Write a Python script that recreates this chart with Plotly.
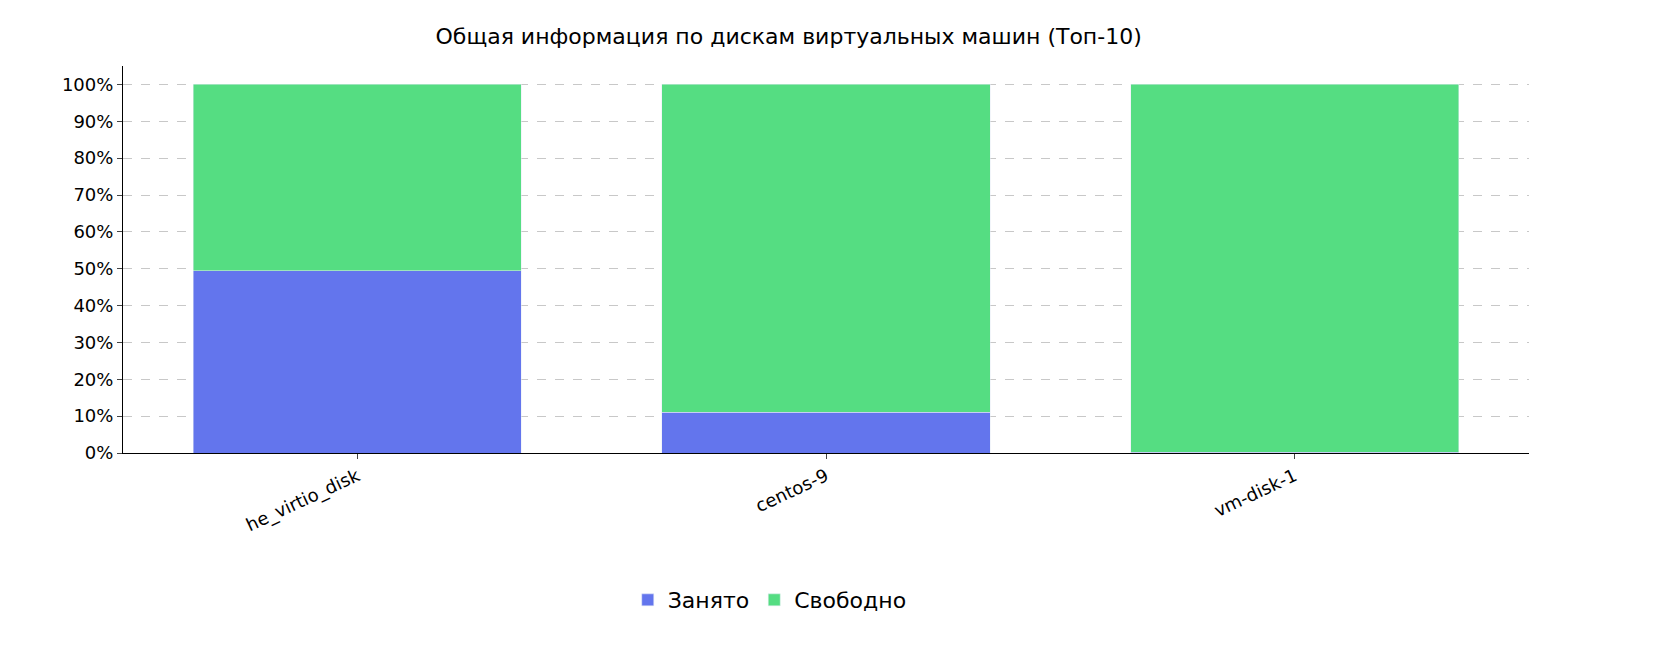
import plotly.graph_objects as go

# ====================================================
# Data
# ====================================================
disks = ["he_virtio_disk", "centos-9", "vm-disk-1"]
used_pct = [49.5, 11.0, 0.2]
free_pct = [50.5, 89.0, 99.8]
tick_vals = list(range(0, 101, 10))
tick_text = [f"{v}%" for v in tick_vals]

FONT = "DejaVu Sans"

fig = go.Figure()
fig.add_trace(go.Bar(x=disks, y=used_pct, name="Занято", marker_color="#6375ed", width=0.7))
fig.add_trace(go.Bar(x=disks, y=free_pct, name="Свободно", marker_color="#55dd82", width=0.7))

fig.update_layout(
    barmode="stack",
    width=1661, height=661,
    plot_bgcolor="white", paper_bgcolor="white",
    font=dict(family=FONT, size=17, color="black"),
    title=dict(text="Общая информация по дискам виртуальных машин (Топ-10)",
               x=0.47, xanchor="center", y=0.957, yanchor="middle",
               font=dict(size=22)),
    margin=dict(l=115, r=140, t=58, b=216),
    legend=dict(orientation="h", traceorder="normal", x=0.46, xanchor="center",
                y=-0.38, yanchor="middle", font=dict(size=22)),
    bargap=0.3,
)
fig.update_xaxes(
    showline=True, linecolor="black", linewidth=1, ticks="outside", ticklen=5,
    tickangle=-25, tickfont=dict(size=18),
)
fig.update_yaxes(
    range=[0, 105], tickvals=tick_vals, ticktext=tick_text,
    showline=True, linecolor="black", linewidth=1, ticks="outside", ticklen=5,
    showgrid=True, gridcolor="#c8c8c8", griddash="dash", zeroline=False,
    tickfont=dict(size=18),
)

fig.write_html("out.html")
